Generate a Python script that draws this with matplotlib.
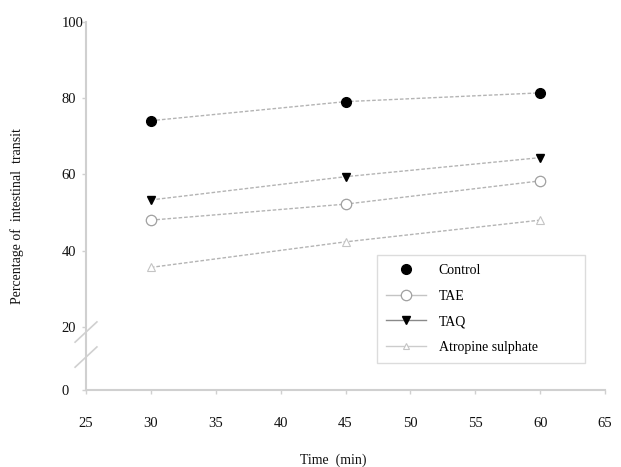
import numpy as np
import matplotlib
matplotlib.use("Agg")
from matplotlib import pyplot as plt
from matplotlib.lines import Line2D

plt.rcParams["font.family"] = ["Liberation Serif", "DejaVu Serif"]
plt.rcParams["font.size"] = 10

time = [30, 45, 60]
control = [74.1, 79.1, 81.4]
tae = [48.0, 52.2, 58.3]
taq = [53.3, 59.4, 64.4]
atropine = [35.6, 42.3, 48.0]

x_ticks = [25, 30, 35, 40, 45, 50, 55, 60, 65]
y_ticks = [0, 20, 40, 60, 80, 100]

# the 0-20 part of the y axis is squeezed (axis break)
k = 63 / 76


def fwd(y):
    y = np.asarray(y, dtype=float)
    return np.where(y >= 20, y, 20 - (20 - y) * k)


def inv(y):
    y = np.asarray(y, dtype=float)
    return np.where(y >= 20, y, 20 - (20 - y) / k)


fig = plt.figure(figsize=(6.21, 4.67), dpi=100)
ax = fig.add_axes([86 / 621, 1 - 390 / 467, 519 / 621, 368 / 467])
ax.set_yscale("function", functions=(fwd, inv))

dash = (0, (2.6, 1.4))
line_col = "#b4b4b4"
ax.plot(time, control, linestyle=dash, color=line_col, lw=1, marker="o",
        ms=7, mfc="black", mec="black", zorder=3)
ax.plot(time, tae, linestyle=dash, color=line_col, lw=1, marker="o",
        ms=7.5, mfc="white", mec="#a0a0a0", mew=0.9, zorder=3)
ax.plot(time, taq, linestyle=dash, color=line_col, lw=1, marker="v",
        ms=6, mfc="black", mec="black", zorder=3)
ax.plot(time, atropine, linestyle=dash, color=line_col, lw=1, marker="^",
        ms=5.5, mfc="white", mec="#c4c4c4", mew=0.8, zorder=3)

ax.set_xlim(25, 65)
ax.set_ylim(0, 100)
ax.set_xticks(x_ticks)
ax.set_yticks(y_ticks)

spine_col = "#d0d0d0"
for s in ["top", "right"]:
    ax.spines[s].set_visible(False)
for s in ["left", "bottom"]:
    ax.spines[s].set_color(spine_col)
    ax.spines[s].set_linewidth(1.5)

ax.tick_params(axis="both", colors=spine_col, labelcolor="#111111",
               length=3, width=1, labelsize=10.5)
ax.tick_params(axis="x", pad=16.5)
ax.tick_params(axis="y", pad=14.4)
for lab in ax.get_yticklabels():
    lab.set_ha("left")

# axis break marks
for y0 in (0.130, 0.062):
    ax.plot([-0.021, 0.021], [y0, y0 + 0.055], transform=ax.transAxes,
            color=spine_col, lw=1.2, clip_on=False)

ax.set_xlabel("Time  (min)", fontsize=10, color="#111111")
ax.xaxis.set_label_coords(0.476, -0.172)
ax.set_ylabel("Percentage of  intestinal  transit", fontsize=10,
              color="#111111")
ax.yaxis.set_label_coords(-0.119, 0.474)

handles = [
    Line2D([], [], linestyle="none", marker="o", ms=7, mfc="black",
           mec="black"),
    Line2D([], [], color="#c4c4c4", lw=1, marker="o", ms=7.5,
           mfc="white", mec="#a0a0a0", mew=0.9),
    Line2D([], [], color="#8a8a8a", lw=1, marker="v", ms=6,
           mfc="black", mec="black"),
    Line2D([], [], color="#cccccc", lw=1, marker="^", ms=5,
           mfc="white", mec="#c4c4c4", mew=0.8),
]
labels = ["Control", "TAE", "TAQ", "Atropine sulphate"]
leg = fig.legend(handles, labels, loc="upper left",
                 bbox_to_anchor=(377 / 621, 1 - 355 / 467, 208 / 621,
                                 100 / 467),
                 mode="expand", borderaxespad=0, fancybox=False,
                 edgecolor="#dcdcdc", handlelength=2.9, handletextpad=0.9,
                 labelspacing=0.9, borderpad=0.65, fontsize=10,
                 framealpha=1)
leg.get_frame().set_linewidth(1)

plt.savefig("out.png", dpi=100)
plt.close()
